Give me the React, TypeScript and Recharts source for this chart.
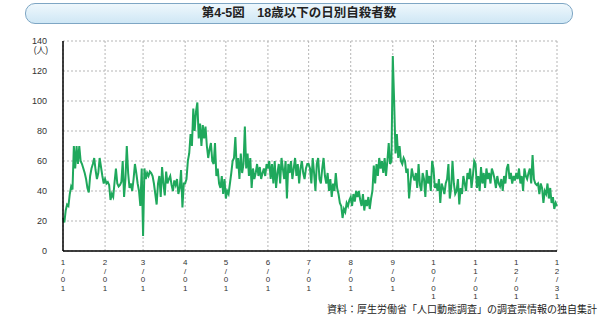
import React from 'react';
import { LineChart, Line, XAxis, YAxis, CartesianGrid } from 'recharts';

// daily counts, one array per month (non-leap year)
const jan = [22, 19, 27, 31, 30, 38, 43, 41, 70, 55, 70, 58, 70, 60, 58, 55, 52, 48, 42, 39, 50, 55, 58, 62, 54, 48, 52, 62, 56, 50, 45];
const feb = [48, 45, 46, 44, 34, 38, 36, 46, 55, 45, 43, 44, 46, 60, 36, 48, 70, 52, 42, 45, 40, 48, 58, 52, 45, 40, 30, 55];
const mar = [10, 55, 48, 52, 50, 53, 52, 50, 45, 38, 31, 45, 50, 36, 56, 45, 37, 53, 45, 48, 50, 44, 40, 47, 44, 48, 38, 42, 54, 29, 45];
const apr = [45, 48, 60, 65, 78, 70, 95, 80, 93, 99, 75, 85, 70, 84, 75, 83, 70, 62, 68, 72, 60, 58, 72, 50, 55, 45, 42, 50, 38, 48];
const may = [35, 40, 38, 45, 52, 60, 62, 76, 55, 62, 48, 65, 52, 58, 83, 55, 65, 50, 62, 42, 55, 48, 52, 58, 50, 56, 48, 52, 55, 50, 58];
const jun = [55, 60, 48, 58, 45, 60, 42, 52, 58, 45, 62, 55, 48, 60, 35, 58, 52, 60, 48, 55, 62, 50, 58, 45, 55, 60, 52, 48, 55, 58];
const jul = [58, 55, 45, 62, 52, 40, 58, 62, 48, 45, 55, 62, 50, 45, 52, 40, 48, 36, 45, 40, 52, 42, 38, 32, 30, 22, 28, 26, 32, 30, 34];
const aug = [36, 30, 38, 33, 40, 36, 40, 34, 30, 38, 27, 34, 30, 36, 28, 35, 40, 57, 45, 58, 50, 62, 55, 60, 52, 62, 50, 60, 72, 58, 60];
const sep = [130, 100, 65, 78, 62, 70, 60, 58, 62, 60, 52, 55, 35, 45, 55, 50, 47, 52, 42, 58, 44, 40, 52, 48, 36, 54, 45, 50, 40, 60];
const oct = [55, 42, 45, 40, 48, 32, 45, 42, 38, 45, 48, 58, 35, 42, 60, 45, 38, 40, 48, 31, 42, 38, 50, 45, 40, 52, 48, 55, 42, 50, 60];
const nov = [58, 42, 50, 40, 56, 45, 52, 42, 55, 48, 52, 45, 55, 52, 48, 42, 50, 45, 43, 48, 40, 50, 45, 55, 58, 48, 52, 45, 50, 47];
const dec = [52, 48, 55, 45, 50, 40, 55, 50, 48, 52, 55, 45, 64, 48, 45, 44, 45, 38, 45, 42, 32, 40, 38, 45, 35, 42, 32, 36, 28, 32, 30];

const tickDays = [0, 31, 59, 90, 120, 151, 181, 212, 243, 273, 304, 334, 364];
const tickLabels = ['1/01', '2/01', '3/01', '4/01', '5/01', '6/01', '7/01', '8/01', '9/01', '10/01', '11/01', '12/01', '12/31'];
const yTicks = [0, 20, 40, 60, 80, 100, 120, 140];

const values = [...jan, ...feb, ...mar, ...apr, ...may, ...jun, ...jul, ...aug, ...sep, ...oct, ...nov, ...dec];
const data = values.map((v, i) => ({ day: i, count: v }));

const font = "'Liberation Sans', 'Noto Sans CJK JP', sans-serif";

const XTick = (props: any) => {
  const { x, y, payload } = props;
  const label = tickLabels[tickDays.indexOf(payload.value)] || '';
  return (
    <g>
      {label.split('').map((ch, i) => (
        <text key={i} x={x} y={y + 6 + i * 8.5} textAnchor="middle" fontSize={8} fill="#333" fontFamily={font}>
          {ch}
        </text>
      ))}
    </g>
  );
};

const YTick = (props: any) => {
  const { x, y, payload } = props;
  return (
    <g>
      <text x={x} y={y + 3} textAnchor="end" fontSize={9} fill="#333" fontFamily={font}>
        {payload.value}
      </text>
      {payload.value === 140 && (
        <text x={x + 1} y={y + 12} textAnchor="end" fontSize={8.5} fill="#333" fontFamily={font}>
          (人)
        </text>
      )}
    </g>
  );
};

export default function App() {
  return (
    <div style={{ position: 'absolute', left: 0, top: 0, width: 600, height: 315, background: '#fff', fontFamily: font }}>
      <div
        style={{
          position: 'absolute', left: 25, top: 3, width: 546, height: 19,
          borderRadius: 10, border: '1px solid #7ea6c4',
          background: 'linear-gradient(#eef7fc, #cfe7f5)',
          textAlign: 'center', fontSize: 12.5, fontWeight: 'bold', lineHeight: '19px', color: '#222',
        }}
      >
        第4-5図　18歳以下の日別自殺者数
      </div>
      <LineChart width={600} height={315} data={data} margin={{ top: 41, right: 43, bottom: 14, left: 23 }}>
        <CartesianGrid stroke="#b5b5b5" strokeDasharray="2 2" />
        <XAxis
          dataKey="day"
          type="number"
          domain={[0, 364]}
          ticks={tickDays}
          interval={0}
          tick={<XTick />}
          tickLine={false}
          height={50}
          axisLine={{ stroke: '#000', strokeWidth: 1.5 }}
        />
        <YAxis
          domain={[0, 140]}
          ticks={yTicks}
          interval={0}
          tick={<YTick />}
          tickLine={false}
          tickMargin={10}
          width={40}
          axisLine={{ stroke: '#000', strokeWidth: 1.5 }}
        />
        <Line type="linear" dataKey="count" stroke="#1fa85c" strokeWidth={2} dot={false} isAnimationActive={false} />
      </LineChart>
      <div style={{ position: 'absolute', right: 3, top: 301, fontSize: 10, color: '#222', fontFamily: "'Noto Sans CJK JP', sans-serif" }}>
        資料：厚生労働省「人口動態調査」の調査票情報の独自集計
      </div>
    </div>
  );
}
